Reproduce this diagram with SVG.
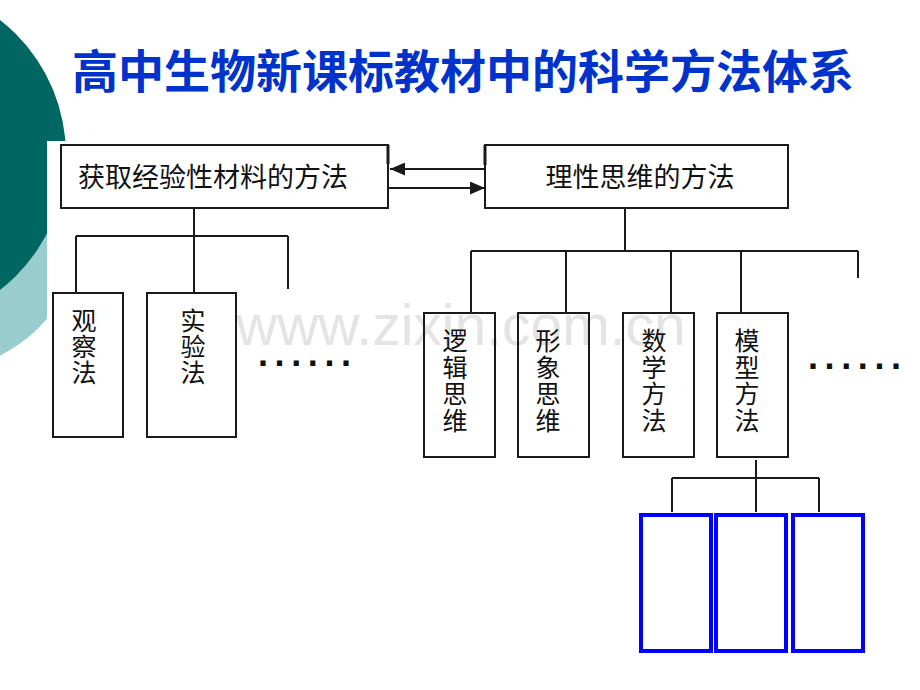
<svg xmlns="http://www.w3.org/2000/svg" width="920" height="690" viewBox="0 0 920 690">
<defs>
<style>
.box{fill:none;stroke:#1a1a1a;stroke-width:2}
.blue{fill:none;stroke:#0000ff;stroke-width:4}
.ln{fill:none;stroke:#1a1a1a;stroke-width:2}
.t{font-family:"Noto Sans CJK SC","Noto Sans CJK TC",sans-serif;fill:#111}
.h{font-size:27px}
.v{font-size:25px;text-anchor:middle}
.dots{font-family:"Liberation Sans",Arial,sans-serif;font-weight:bold;font-size:36px;fill:#111;letter-spacing:6.6px}
</style>
<marker id="ah" viewBox="0 0 15 13" refX="15" refY="6.5" markerWidth="15" markerHeight="13" markerUnits="userSpaceOnUse" orient="auto">
<path d="M0,0 L15,6.5 L0,13 Z" fill="#1a1a1a"/>
</marker>
</defs>
<rect width="920" height="690" fill="#ffffff"/>
<circle cx="-60" cy="230" r="139" fill="#99cccc"/>
<circle cx="-105" cy="155" r="171" fill="#006661"/>
<rect x="47" y="141" width="873" height="549" fill="#ffffff"/>
<text x="463" y="88" text-anchor="middle" font-family="'Noto Sans CJK SC','Noto Sans CJK TC',sans-serif" font-weight="bold" font-size="46" fill="#0033cc">高中生物新课标教材中的科学方法体系</text>
<text x="236" y="345" font-family="'Liberation Sans',Arial,sans-serif" font-size="57" fill="#e4e4e4">www.zixin.com.cn</text>
<g id="connectors">
<line class="ln" x1="485" y1="169" x2="390" y2="169" marker-end="url(#ah)"/>
<line class="ln" x1="388" y1="188" x2="485" y2="188" marker-end="url(#ah)"/>
<path class="ln" d="M194,208 V236 M76,236 H288 M76,236 V293 M194,236 V293 M288,236 V289"/>
<path class="ln" d="M625,208 V251 M471,251 H858 M471,251 V313 M566,251 V313 M671,251 V313 M741,251 V313 M858,251 V278"/>
<path class="ln" d="M756,460 V512 M672,478 H819 M672,478 V512 M819,478 V512"/>
</g>
<g id="n_empirical">
<rect class="box" x="61" y="145" width="327" height="63"/>
<line x1="388" y1="145" x2="388" y2="164" stroke="#1a1a1a" stroke-width="3"/>
<text class="t h" x="78" y="187">获取经验性材料的方法</text>
</g>
<g id="n_rational">
<rect class="box" x="485" y="145" width="303" height="63"/>
<line x1="485" y1="145" x2="485" y2="165" stroke="#1a1a1a" stroke-width="3"/>
<text class="t h" x="640" y="187" text-anchor="middle">理性思维的方法</text>
</g>
<g id="n_observe">
<rect class="box" x="53" y="293" width="70" height="144"/>
<text class="t v"><tspan x="84" y="330">观</tspan><tspan x="84" dy="26">察</tspan><tspan x="84" dy="26">法</tspan></text>
</g>
<g id="n_experiment">
<rect class="box" x="147" y="293" width="89" height="144"/>
<text class="t v"><tspan x="193" y="330">实</tspan><tspan x="193" dy="26">验</tspan><tspan x="193" dy="26">法</tspan></text>
</g>
<text class="dots" x="258" y="366">......</text>
<g id="n_logic">
<rect class="box" x="424" y="313" width="71" height="144"/>
<text class="t v"><tspan x="455" y="350">逻</tspan><tspan x="455" dy="26.5">辑</tspan><tspan x="455" dy="26.5">思</tspan><tspan x="455" dy="26.5">维</tspan></text>
</g>
<g id="n_image">
<rect class="box" x="518" y="313" width="71" height="144"/>
<text class="t v"><tspan x="548" y="350">形</tspan><tspan x="548" dy="26.5">象</tspan><tspan x="548" dy="26.5">思</tspan><tspan x="548" dy="26.5">维</tspan></text>
</g>
<g id="n_math">
<rect class="box" x="623" y="313" width="71" height="144"/>
<text class="t v"><tspan x="654" y="350">数</tspan><tspan x="654" dy="26.5">学</tspan><tspan x="654" dy="26.5">方</tspan><tspan x="654" dy="26.5">法</tspan></text>
</g>
<g id="n_model">
<rect class="box" x="717" y="313" width="71" height="144"/>
<text class="t v"><tspan x="747" y="350">模</tspan><tspan x="747" dy="26.5">型</tspan><tspan x="747" dy="26.5">方</tspan><tspan x="747" dy="26.5">法</tspan></text>
</g>
<text class="dots" x="808" y="369">......</text>
<g id="n_blank1"><rect class="blue" x="641" y="515" width="70" height="136"/></g>
<g id="n_blank2"><rect class="blue" x="716" y="515" width="70" height="136"/></g>
<g id="n_blank3"><rect class="blue" x="793" y="515" width="70" height="136"/></g>
</svg>
